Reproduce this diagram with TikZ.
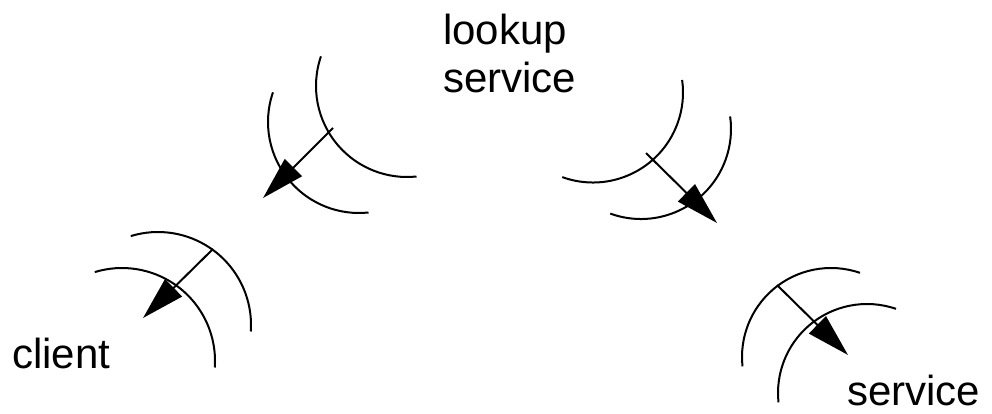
\documentclass[tikz,border=0pt]{standalone}
\usepackage{fontspec}
\setmainfont{Liberation Sans}
\usetikzlibrary{arrows.meta}
\begin{document}
\begin{tikzpicture}[x=1pt,y=1pt,
  wave/.style={line width=2pt},
  sig/.style={line width=2pt,-{Triangle[length=43pt,width=24pt]}},
  lbl/.style={inner sep=0pt,anchor=base west,font=\fontsize{42}{48}\selectfont}]
\useasboundingbox (0,0) rectangle (992,413);
% group 1: lookup service -> client (emitting)
\draw[wave] ([shift={(161:91pt)}]407,327) arc[start angle=161,end angle=276,radius=91pt];
\draw[wave] ([shift={(161:91pt)}]359,291) arc[start angle=161,end angle=276,radius=91pt];
\coordinate (a1) at (333,285);
\coordinate (b1) at (263,215);
\draw[sig] (a1) -- (b1);
% group 2: lookup service -> service (emitting)
\draw[wave] ([shift={(-110:90pt)}]593,320.5) arc[start angle=-110,end angle=8,radius=90pt];
\draw[wave] ([shift={(-110:90pt)}]641,284) arc[start angle=-110,end angle=8,radius=90pt];
\coordinate (a2) at (646,260);
\coordinate (b2) at (717,190);
\draw[sig] (a2) -- (b2);
% group 3: client (receiving)
\draw[wave] ([shift={(-4:93pt)}]158,88) arc[start angle=-4,end angle=107,radius=93pt];
\draw[wave] ([shift={(-4:93pt)}]122,52) arc[start angle=-4,end angle=107,radius=93pt];
\coordinate (a3) at (213,164);
\coordinate (b3) at (143,95);
\draw[sig] (a3) -- (b3);
% group 4: service (receiving)
\draw[wave] ([shift={(71:89pt)}]831,56) arc[start angle=71,end angle=186,radius=89pt];
\draw[wave] ([shift={(71:89pt)}]867,20) arc[start angle=71,end angle=186,radius=89pt];
\coordinate (a4) at (777,128);
\coordinate (b4) at (848,58);
\draw[sig] (a4) -- (b4);
% labels
\node[lbl] (lookup1) at (443,368) {lookup};
\node[lbl] (lookup2) at (443,320) {service};
\node[lbl] (client) at (12,45) {client};
\node[lbl,text depth=0pt] (service) at (847,8) {service};
\end{tikzpicture}
\end{document}
